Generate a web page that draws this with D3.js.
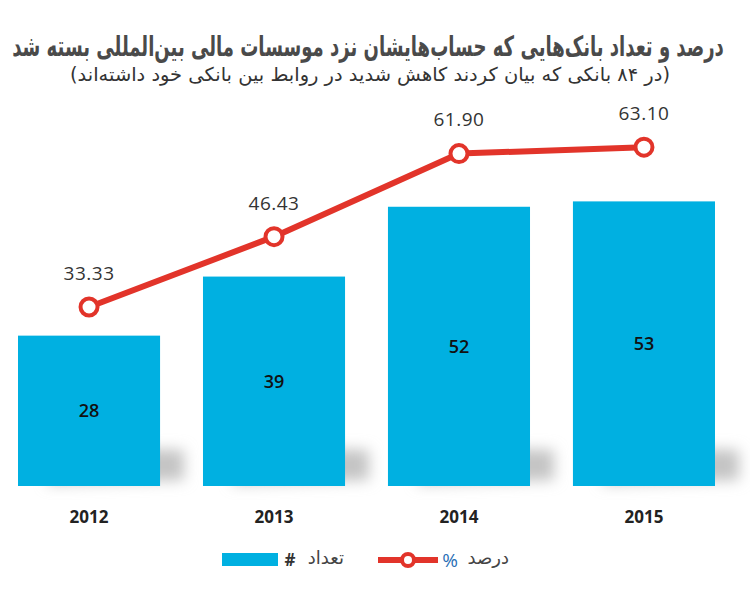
<!DOCTYPE html>
<html><head><meta charset="utf-8">
<script src="https://cdn.jsdelivr.net/npm/d3@7"></script>
<style>body{margin:0;background:#fff}svg{display:block}</style>
</head><body>
<svg id="c" width="750" height="598"></svg>
<script>
const years = ["2012","2013","2014","2015"];
const counts = [28, 39, 52, 53];
const percents = [33.33, 46.43, 61.90, 63.10];
const percentLabels = ["33.33","46.43","61.90","63.10"];
const title = "درصد و تعداد بانک‌هایی که حساب‌هایشان نزد موسسات مالی بین‌المللی بسته شد";
const subtitle = "(در ۸۴ بانکی که بیان کردند کاهش شدید در روابط بین بانکی خود داشته‌اند)";
const legendCount = "تعداد";
const legendPct = "درصد";

const svg = d3.select("#c");
const barColor = "#00b0e1", lineColor = "#e2342a";

const x = d3.scaleBand().domain(years).range([18, 715]).paddingInner(0.232).paddingOuter(0);
const y = d3.scaleLinear().domain([0, 70]).range([486, 486 - 70 * 5.37]);

const defs = svg.append("defs");
defs.append("filter").attr("id","blur").attr("x","-50%").attr("y","-50%").attr("width","200%").attr("height","200%")
  .append("feGaussianBlur").attr("stdDeviation", 7);

// shadows
svg.append("g").selectAll("path").data(years).join("path")
  .attr("d", d => {
    const x0 = x(d) + 30, x1 = x(d) + x.bandwidth() + 24;
    return `M${x0},${y(0)-40} L${x1},${y(0)-36} L${x1},${y(0)-6} L${x0},${y(0)-2} Z`;
  })
  .attr("fill", "#c4c4c4").attr("filter","url(#blur)");

// bars
svg.append("g").selectAll("rect").data(years).join("rect")
  .attr("x", d => x(d)).attr("width", x.bandwidth())
  .attr("y", (d,i) => y(counts[i])).attr("height", (d,i) => y(0) - y(counts[i]))
  .attr("fill", barColor);

// bar labels
svg.append("g").selectAll("text").data(years).join("text")
  .attr("x", d => x(d) + x.bandwidth()/2)
  .attr("y", (d,i) => (y(counts[i]) + y(0))/2)
  .attr("dy", "0.36em").attr("text-anchor","middle")
  .attr("font-family","Open Sans, sans-serif").attr("font-size",18).attr("font-weight",600)
  .attr("fill","#111").text((d,i)=>counts[i]);

// x labels
svg.append("g").selectAll("text").data(years).join("text")
  .attr("x", d => x(d) + x.bandwidth()/2).attr("y", 517).attr("dy","0.36em")
  .attr("text-anchor","middle").attr("font-family","Open Sans, sans-serif")
  .attr("font-size",17).attr("font-weight",700).attr("fill","#222").text(d=>d);

// line
const line = d3.line().x((d,i)=> x(years[i]) + x.bandwidth()/2).y(d=>y(d));
svg.append("path").datum(percents).attr("d", line)
  .attr("fill","none").attr("stroke",lineColor).attr("stroke-width",6).attr("stroke-linejoin","round");
svg.append("g").selectAll("circle").data(percents).join("circle")
  .attr("cx",(d,i)=> x(years[i]) + x.bandwidth()/2).attr("cy", d=>y(d)).attr("r",8.5)
  .attr("fill","#fff").attr("stroke",lineColor).attr("stroke-width",4);
svg.append("g").selectAll("text").data(percents).join("text")
  .attr("x",(d,i)=> x(years[i]) + x.bandwidth()/2).attr("y", d=>y(d) - 34).attr("dy","0.36em")
  .attr("text-anchor","middle").attr("font-family","Open Sans, sans-serif").attr("font-size",19)
  .attr("letter-spacing",0.5).attr("fill","#333").text((d,i)=>percentLabels[i]);

// title: scale horizontally to fit
function fitText(sel, cx, width){
  const len = sel.node().getComputedTextLength();
  const k = width / len;
  sel.attr("x", 0).attr("transform", `translate(${cx},0) scale(${k},1)`);
}
const t = svg.append("text").attr("y",56).attr("text-anchor","middle").attr("direction","rtl")
  .attr("font-family","DejaVu Sans, sans-serif").attr("font-weight",700).attr("font-size",28)
  .attr("fill","#4a4a4a").text(title);
fitText(t, 368, 712);
const st = svg.append("text").attr("y",81).attr("text-anchor","middle").attr("direction","rtl")
  .attr("font-family","DejaVu Sans, sans-serif").attr("font-size",19)
  .attr("fill","#333").text(subtitle);
fitText(st, 370, 600);

// legend
const lg = svg.append("g");
lg.append("rect").attr("x",222).attr("y",553).attr("width",56).attr("height",13).attr("fill",barColor);
lg.append("text").attr("x",290).attr("y",560).attr("dy","0.36em").attr("text-anchor","middle")
  .attr("font-family","Open Sans, sans-serif").attr("font-size",17).attr("font-weight",700).attr("fill","#333").text("#");
lg.append("text").attr("x",344).attr("y",558).attr("dy","0.36em").attr("text-anchor","start").attr("direction","rtl")
  .attr("font-family","DejaVu Sans, sans-serif").attr("font-size",18).attr("fill","#444").text(legendCount);
lg.append("line").attr("x1",378).attr("x2",438).attr("y1",560).attr("y2",560)
  .attr("stroke",lineColor).attr("stroke-width",6);
lg.append("circle").attr("cx",408).attr("cy",560).attr("r",6).attr("fill","#fff").attr("stroke",lineColor).attr("stroke-width",4);
lg.append("text").attr("x",450).attr("y",560).attr("dy","0.36em").attr("text-anchor","middle")
  .attr("font-family","Open Sans, sans-serif").attr("font-size",19).attr("fill","#2a6fb5").text("%");
lg.append("text").attr("x",509).attr("y",558).attr("dy","0.36em").attr("text-anchor","start").attr("direction","rtl")
  .attr("font-family","DejaVu Sans, sans-serif").attr("font-size",18).attr("fill","#444").text(legendPct);
</script>
</body></html>
